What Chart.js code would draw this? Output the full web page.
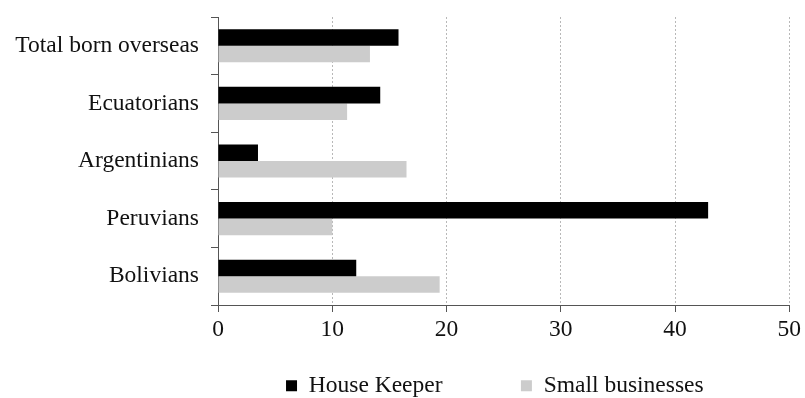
<!DOCTYPE html>
<html>
<head>
<meta charset="utf-8">
<script src="https://cdn.jsdelivr.net/npm/chart.js@4"></script>
<style>
  html, body { margin: 0; padding: 0; background: #fff; }
  #wrap { width: 805px; height: 398px; position: relative; }
</style>
</head>
<body>
<div id="wrap"><canvas id="c"></canvas></div>
<script>
const categories = ['Total born overseas', 'Ecuatorians', 'Argentinians', 'Peruvians', 'Bolivians'];
const houseKeeper = [15.8, 14.2, 3.5, 42.9, 12.1];
const smallBusinesses = [13.3, 11.3, 16.5, 10.0, 19.4];
const xTicks = [0, 10, 20, 30, 40, 50];
const seriesNames = ['House Keeper', 'Small businesses'];

const FONT = { family: "'Liberation Serif', 'Times New Roman', serif", size: 23.5 };
const AXIS = '#555555';

new Chart(document.getElementById('c'), {
  type: 'bar',
  data: {
    labels: categories,
    datasets: [
      { label: seriesNames[0], data: houseKeeper, backgroundColor: '#000000', borderWidth: 0 },
      { label: seriesNames[1], data: smallBusinesses, backgroundColor: '#cccccc', borderWidth: 0 }
    ]
  },
  options: {
    indexAxis: 'y',
    responsive: true,
    maintainAspectRatio: false,
    animation: false,
    datasets: { bar: { categoryPercentage: 0.575, barPercentage: 1.0 } },
    layout: { padding: { left: 0, right: 14, top: 17, bottom: 0 } },
    scales: {
      x: {
        type: 'linear',
        min: xTicks[0],
        max: xTicks[xTicks.length - 1],
        afterBuildTicks: (s) => { s.ticks = xTicks.map(v => ({ value: v })); },
        afterFit: (s) => { s.height = 67; },
        ticks: { font: FONT, color: '#111', padding: 4 },
        grid: {
          color: '#b8b8b8', lineWidth: 1,
          drawTicks: true, tickLength: 7, tickColor: AXIS, tickBorderDash: [], tickWidth: 1
        },
        border: { display: true, color: AXIS, width: 1, dash: [2, 2] }
      },
      y: {
        afterFit: (s) => { s.width = 218; s.paddingTop = 0; s.paddingBottom = 0; },
        ticks: { font: FONT, color: '#111', padding: 12 },
        grid: { drawOnChartArea: false, drawTicks: true, tickLength: 7, tickColor: AXIS, offset: true },
        border: { display: true, color: AXIS, width: 1 }
      }
    },
    plugins: {
      legend: {
        position: 'bottom',
        fullSize: false,
        maxHeight: 26,
        labels: {
          font: FONT,
          color: '#111',
          boxWidth: 11,
          boxHeight: 11,
          padding: 2,
          generateLabels: (chart) => {
            const items = Chart.defaults.plugins.legend.labels.generateLabels(chart);
            items.forEach((it, i) => {
              it.lineWidth = 0;
              if (i === 0) it.text = it.text + '\u00a0'.repeat(13);
              if (i === 1) it.text = it.text + '\u00a0'.repeat(3);
            });
            return items;
          }
        }
      },
      tooltip: { enabled: false }
    }
  }
});
</script>
</body>
</html>
